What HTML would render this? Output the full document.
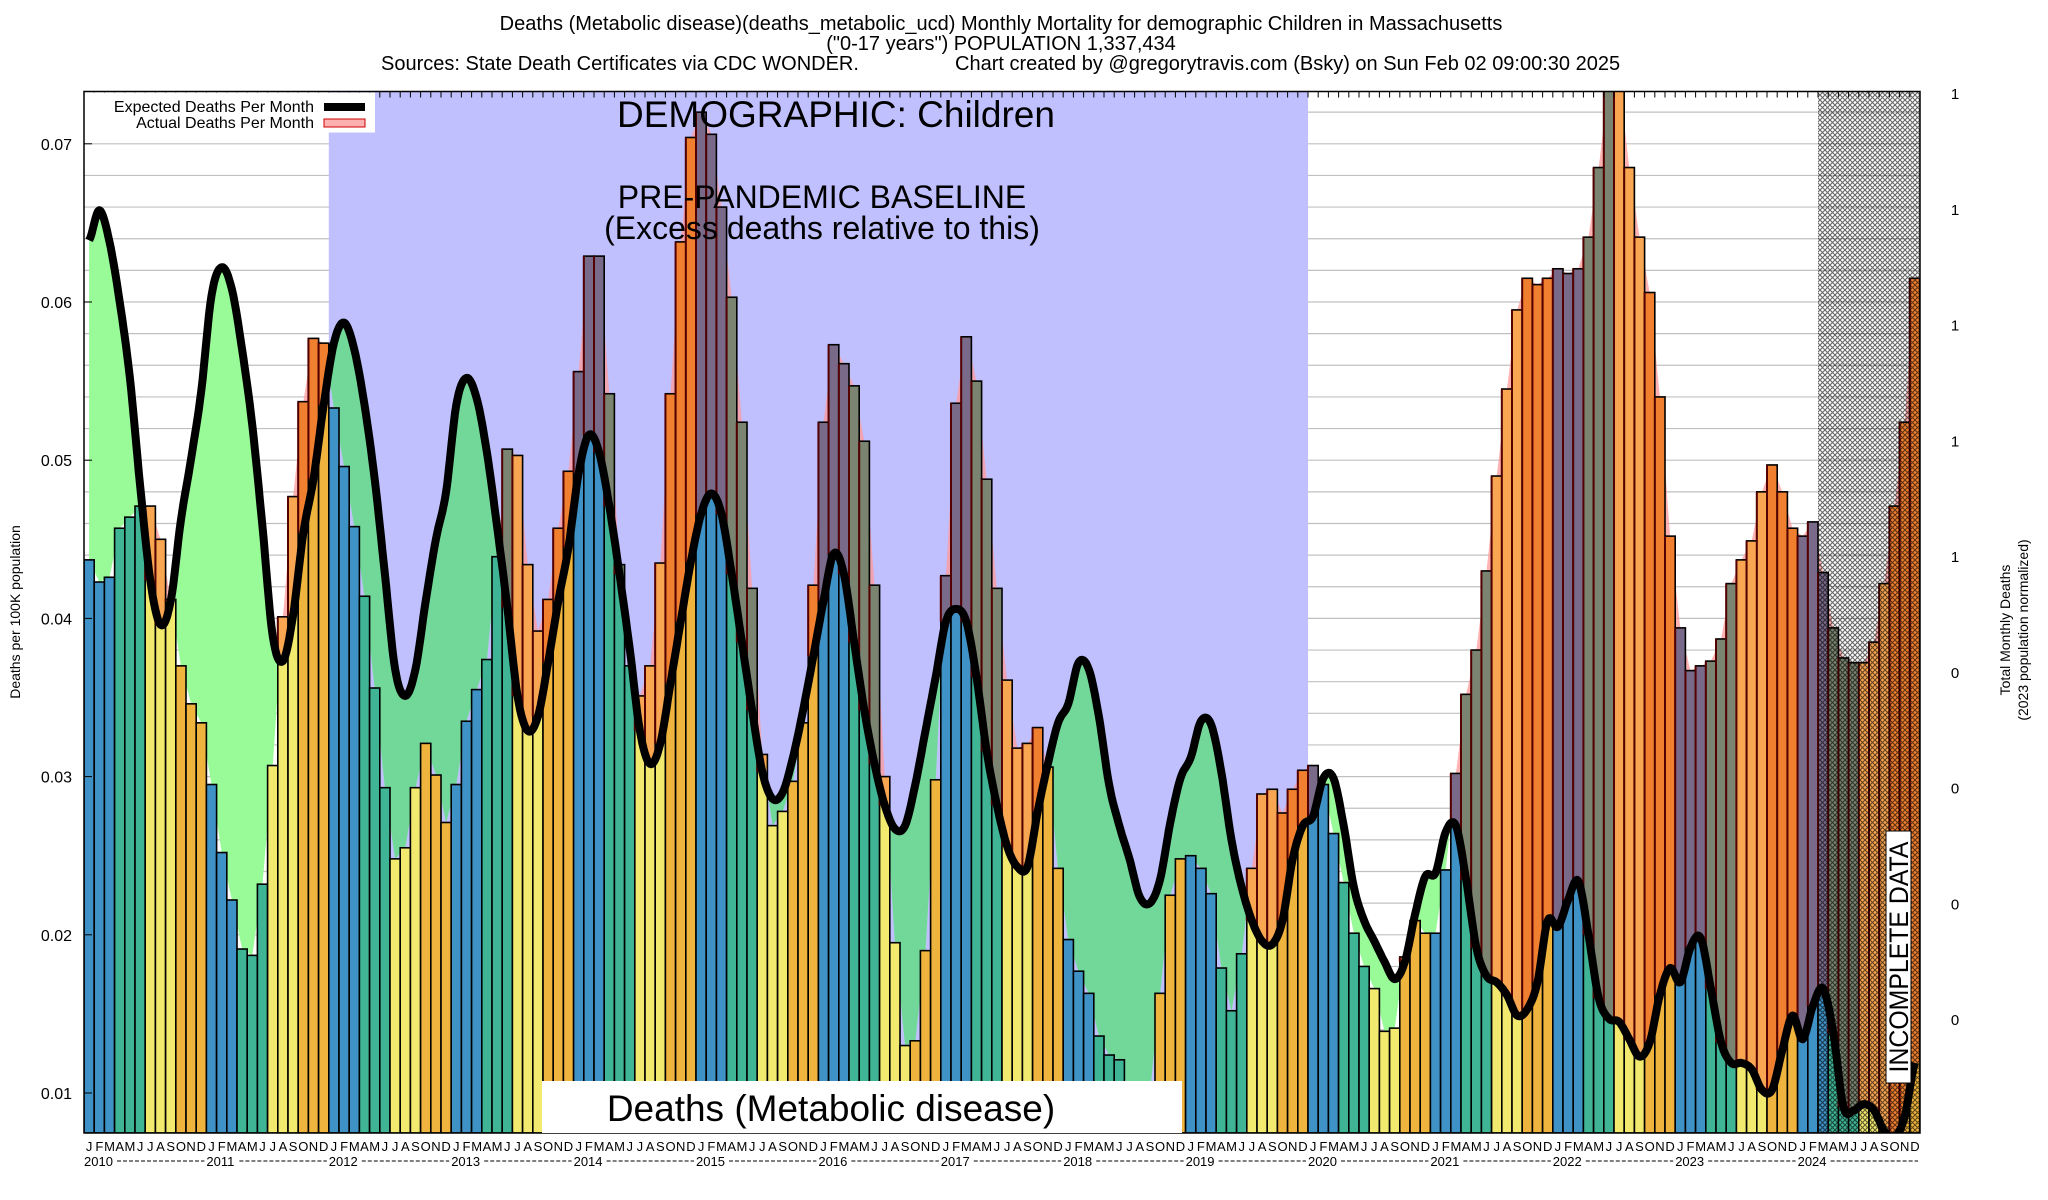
<!DOCTYPE html>
<html><head><meta charset="utf-8">
<style>
html,body{margin:0;padding:0;background:#fff;}
svg{display:block;font-family:"Liberation Sans",Arial,sans-serif;}
</style></head>
<body>
<svg id="chart" width="2048" height="1200" viewBox="0 0 2048 1200" xmlns="http://www.w3.org/2000/svg">
<defs>
<clipPath id="plotClip"><rect x="84" y="91.5" width="1836" height="1041.5"/></clipPath>
<clipPath id="blueClip"><rect x="328.8" y="91.5" width="979.2" height="1041.5"/></clipPath>
<pattern id="hatch" patternUnits="userSpaceOnUse" width="5" height="5">
<path d="M0,0 L5,5 M5,0 L0,5" stroke="#000" stroke-width="1.1" opacity="0.6"/>
</pattern>
</defs>
<g id="header">
<text x="1001" y="30" font-size="20" text-anchor="middle">Deaths (Metabolic disease)(deaths_metabolic_ucd) Monthly Mortality for demographic Children in Massachusetts</text>
<text x="1001" y="50" font-size="20" text-anchor="middle">("0-17 years") POPULATION 1,337,434</text>
<text x="381" y="70" font-size="20">Sources: State Death Certificates via CDC WONDER.</text>
<text x="955" y="70" font-size="20">Chart created by @gregorytravis.com (Bsky) on Sun Feb 02 09:00:30 2025</text>
</g>
<g id="grid" clip-path="url(#plotClip)"></g>
<rect x="328.8" y="91.5" width="979.2" height="1041.5" fill="#c0c0ff"/>
<g id="fills" clip-path="url(#plotClip)"></g>
<g id="bars" clip-path="url(#plotClip)"></g>
<g id="line" clip-path="url(#plotClip)"></g>
<rect id="hatchRect" x="1818" y="91.5" width="102" height="1041.5" fill="url(#hatch)"/>
<rect x="84" y="91.5" width="1836" height="1041.5" fill="none" stroke="#000" stroke-width="1.5"/>
<g id="ticks"></g>
<g>
<rect x="85" y="92.5" width="290" height="40" fill="#fff"/>
<text x="314" y="112" font-size="16" text-anchor="end">Expected Deaths Per Month</text>
<rect x="324" y="103" width="41" height="8" fill="#000"/>
<text x="314" y="128" font-size="16" text-anchor="end">Actual Deaths Per Month</text>
<rect x="324" y="119" width="41" height="8" fill="#ffb0b0" stroke="#c00" stroke-width="1"/>
</g>
<text x="836" y="127" font-size="37" text-anchor="middle">DEMOGRAPHIC: Children</text>
<text x="822" y="208" font-size="32" text-anchor="middle">PRE-PANDEMIC BASELINE</text>
<text x="822" y="239" font-size="32" text-anchor="middle">(Excess deaths relative to this)</text>
<rect x="542" y="1081" width="640" height="52" fill="#fff"/>
<text x="831" y="1121" font-size="37" text-anchor="middle">Deaths (Metabolic disease)</text>
<g>
<rect x="1886" y="831" width="25" height="252" fill="#fff" stroke="#000" stroke-width="1"/>
<text x="0" y="0" font-size="27" text-anchor="middle" transform="translate(1908,957) rotate(-90) scale(0.92,1)">INCOMPLETE DATA</text>
</g>
<text x="0" y="0" font-size="14" text-anchor="middle" transform="translate(20,612) rotate(-90)">Deaths per 100K population</text>
<text x="0" y="0" font-size="14" text-anchor="middle" transform="translate(2010,630) rotate(-90)">Total Monthly Deaths</text>
<text x="0" y="0" font-size="14" text-anchor="middle" transform="translate(2028,630) rotate(-90)">(2023 population normalized)</text>
<g id="labels"></g>
</svg>
<script>
// ---- data ----
const years = [2010,2011,2012,2013,2014,2015,2016,2017,2018,2019,2020,2021,2022,2023,2024];
const monthLetters = ["J","F","M","A","M","J","J","A","S","O","N","D"];
const actual = [
.0437,.0423,.0426,.0457,.0464,.0471,.0471,.0450,.0412,.0370,.0346,.0334,
.0295,.0252,.0222,.0191,.0187,.0232,.0307,.0401,.0477,.0537,.0577,.0574,
.0533,.0496,.0458,.0414,.0356,.0293,.0248,.0255,.0293,.0321,.0301,.0271,
.0295,.0335,.0355,.0374,.0439,.0507,.0503,.0434,.0392,.0412,.0457,.0493,
.0556,.0629,.0629,.0542,.0434,.0370,.0351,.0370,.0435,.0542,.0638,.0704,
.0720,.0706,.0660,.0603,.0524,.0419,.0314,.0269,.0278,.0297,.0334,.0421,
.0524,.0573,.0561,.0547,.0512,.0421,.0300,.0195,.0130,.0133,.0190,.0298,
.0427,.0536,.0578,.0550,.0488,.0419,.0361,.0318,.0321,.0331,.0306,.0242,
.0197,.0177,.0163,.0136,.0124,.0121,.0100,.0098,.0100,.0163,.0225,.0248,
.0250,.0242,.0226,.0179,.0152,.0188,.0242,.0289,.0292,.0277,.0292,.0304,
.0307,.0295,.0264,.0233,.0201,.0180,.0166,.0139,.0141,.0186,.0209,.0201,
.0201,.0241,.0302,.0352,.0380,.0430,.0490,.0545,.0595,.0615,.0611,.0615,
.0621,.0618,.0621,.0641,.0685,.0740,.0740,.0685,.0641,.0606,.0540,.0452,
.0394,.0367,.0370,.0373,.0387,.0422,.0437,.0449,.0480,.0497,.0480,.0457,
.0452,.0461,.0429,.0394,.0375,.0372,.0372,.0385,.0422,.0471,.0524,.0615];
const expected = [
.0639,.0658,.0638,.0600,.0552,.0484,.0424,.0396,.0411,.0462,.0501,.0544,
.0604,.0622,.0608,.0570,.0522,.0458,.0389,.0373,.0402,.0454,.0488,.0535,
.0574,.0587,.0570,.0535,.0488,.0428,.0368,.0351,.0368,.0411,.0450,.0480,
.0535,.0552,.0539,.0505,.0458,.0407,.0351,.0329,.0338,.0372,.0411,.0445,
.0492,.0516,.0505,.0471,.0428,.0381,.0329,.0308,.0321,.0359,.0398,.0436,
.0466,.0479,.0466,.0428,.0385,.0342,.0303,.0286,.0290,.0312,.0342,.0376,
.0411,.0441,.0428,.0385,.0342,.0308,.0282,.0267,.0269,.0295,.0329,.0363,
.0398,.0406,.0398,.0363,.0316,.0282,.0256,.0243,.0243,.0278,.0308,.0334,
.0346,.0372,.0368,.0338,.0295,.0269,.0248,.0224,.0220,.0235,.0271,.0299,
.0312,.0335,.0333,.0303,.0260,.0230,.0209,.0196,.0194,.0209,.0248,.0269,
.0275,.0299,.0299,.0269,.0230,.0209,.0196,.0183,.0172,.0183,.0213,.0237,
.0239,.0265,.0269,.0235,.0192,.0174,.0170,.0162,.0149,.0153,.0170,.0209,
.0205,.0222,.0234,.0200,.0160,.0147,.0145,.0134,.0123,.0132,.0162,.0179,
.0170,.0192,.0198,.0166,.0132,.0119,.0119,.0115,.0102,.0102,.0127,.0149,
.0134,.0155,.0166,.0138,.0091,.0089,.0093,.0089,.0076,.0072,.0085,.0119];
const yTicks = [0.01,0.02,0.03,0.04,0.05,0.06,0.07];
const y2Labels = ["1","1","1","1","1","0","0","0","0"];

// ---- scales ----
const NS="http://www.w3.org/2000/svg";
const X0=84, X1=1920, YT=91.5, YB=1133;
const N=actual.length;
const bw=(X1-X0)/180;
function xC(i){return X0+(i+0.5)*bw;}
function yV(v){return 143.8+(0.07-v)*15820;}
function mk(tag,attrs,parent){const e=document.createElementNS(NS,tag);for(const k in attrs)e.setAttribute(k,attrs[k]);parent.appendChild(e);return e;}

const grid=document.getElementById('grid');
for(let v=0.008; v<=0.0735; v+=0.002){
  const gl=mk('line',{x1:X0,x2:X1,y1:yV(v),y2:yV(v),stroke:'#c0c0c0','stroke-width':1.2},grid);
  
  
}

function expAt(t){
  if(t<=0) return expected[0];
  if(t>=N-1) return expected[N-1];
  const i=Math.floor(t), f=t-i;
  const p0=expected[Math.max(0,i-1)],p1=expected[i],p2=expected[Math.min(N-1,i+1)],p3=expected[Math.min(N-1,i+2)];
  return 0.5*((2*p1)+(-p0+p2)*f+(2*p0-5*p1+4*p2-p3)*f*f+(-p0+3*p1-3*p2+p3)*f*f*f);
}
function actAt(t){
  if(t<=0) return actual[0];
  if(t>=N-1) return actual[N-1];
  const i=Math.floor(t), f=t-i;
  return actual[i]*(1-f)+actual[i+1]*f;
}
const samples=[];
for(let t=0;t<=N-1+1e-9;t+=0.125) samples.push(t);
function xT(t){return X0+(t+0.5)*bw;}

const fills=document.getElementById('fills');
let pinkTop=[],pinkBot=[],greenTop=[],greenBot=[];
samples.forEach(t=>{const a=actAt(t),e=expAt(t);const x=xT(t).toFixed(1);
  pinkTop.push(x+','+yV(Math.max(a,e)).toFixed(1)); pinkBot.push(x+','+yV(e).toFixed(1));
  greenTop.push(x+','+yV(e).toFixed(1)); greenBot.push(x+','+yV(Math.min(a,e)).toFixed(1));});
const pinkPts=pinkTop.concat(pinkBot.reverse()).join(' ');
const greenPts=greenTop.concat(greenBot.reverse()).join(' ');
const pink=mk('polygon',{points:pinkPts,fill:'#ff9a9a','fill-opacity':0.75},fills);


const green=mk('polygon',{points:greenPts,fill:'#98fb98'},fills);


const green2=mk('polygon',{points:greenPts,fill:'#72d89a','clip-path':'url(#blueClip)'},fills);



const season=['#3f92c6','#3f92c6','#3f92c6','#3fb595','#3fb595','#3fb595','#f2e96f','#f2e96f','#f2e96f','#eeb43d','#eeb43d','#eeb43d'];
const excess=['#7a6a8a','#7a6a8a','#7a6a8a','#7a8470','#7a8470','#7a8470','#f8a651','#f8a651','#f8a651','#f08030','#f08030','#f08030'];
const bars=document.getElementById('bars');
for(let i=0;i<N;i++){
  const a=actual[i], e=expected[i], x=X0+i*bw, mo=i%12;
  const g=mk('g',{},bars);
  
  
  const ya=yV(a), ye=yV(e);
  if(a<=e){
    mk('rect',{x:x,y:ya,width:bw,height:YB-ya,fill:season[mo],stroke:'#000','stroke-width':1.6},g);
  } else {
    mk('rect',{x:x,y:ye,width:bw,height:YB-ye,fill:season[mo]},g);
    mk('rect',{x:x,y:ya,width:bw,height:ye-ya,fill:excess[mo]},g);
    mk('rect',{x:x,y:ya,width:bw,height:YB-ya,fill:'none',stroke:'#000','stroke-width':1.6},g);
    mk('line',{x1:x,x2:x,y1:ya,y2:ye,stroke:'#500','stroke-width':2},g);
  }
}

const linePts=samples.map(t=>xT(t).toFixed(1)+','+yV(expAt(t)).toFixed(1)).join(' ');
const ln=mk('polyline',{points:linePts,fill:'none',stroke:'#000','stroke-width':8,'stroke-linejoin':'round'},document.getElementById('line'));



const ticks=document.getElementById('ticks'), labels=document.getElementById('labels');
for(let i=0;i<=180;i++){
  mk('line',{x1:X0+i*bw,x2:X0+i*bw,y1:YT,y2:YT+6,stroke:'#000','stroke-width':1},ticks);
}
yTicks.forEach(v=>{
  mk('line',{x1:X0,x2:X0+8,y1:yV(v),y2:yV(v),stroke:'#000','stroke-width':1},ticks);
  const t=mk('text',{x:X0-12,y:yV(v)+6,'font-size':16,'text-anchor':'end'},labels);
  t.textContent=v.toFixed(2);
  
  
});
y2Labels.forEach((s,k)=>{
  const t=mk('text',{x:1955,y:99+k*115.75,'font-size':15,'text-anchor':'middle'},labels);
  t.textContent=s;
  
  
});
for(let i=0;i<N;i++){
  const t=mk('text',{x:xC(i),y:1151,'font-size':13,'text-anchor':'middle'},labels);
  t.textContent=monthLetters[i%12];
  
  
}
years.forEach((yr,k)=>{
  const x=X0+k*12*bw;
  const t=mk('text',{x:x,y:1166,'font-size':13},labels);
  t.textContent=String(yr);
  
  
  const d=mk('line',{x1:x+33,x2:x+12*bw-2,y1:1161,y2:1161,stroke:'#000','stroke-width':1,'stroke-dasharray':'4,2'},labels);
  
  
});
</script>
</body></html>
